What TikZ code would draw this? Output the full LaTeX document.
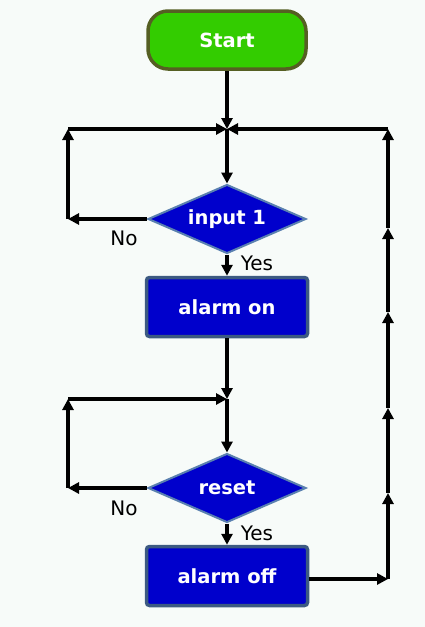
\documentclass[tikz,border=0pt]{standalone}
\usepackage{fontspec}
\setmainfont{DejaVu Sans}
\usetikzlibrary{shapes.geometric, arrows.meta}

\definecolor{bgcol}{RGB}{247,251,249}
\definecolor{startgreen}{RGB}{51,204,0}
\definecolor{startedge}{RGB}{85,95,35}
\definecolor{boxblue}{RGB}{0,0,204}
\definecolor{boxedge}{RGB}{60,90,130}
\definecolor{diaedge}{RGB}{90,128,176}

\begin{document}
\begin{tikzpicture}[x=1pt, y=-1pt,
  line width=3.5pt,
  arr/.style={-{Triangle[length=11pt,width=11pt]}},
  startbox/.style={rectangle, rounded corners=20pt, fill=startgreen, draw=startedge,
    minimum width=158pt, minimum height=58pt, text=white,
    font=\bfseries\fontsize{19.5}{22}\selectfont},
  actbox/.style={rectangle, rounded corners=3pt, fill=boxblue, draw=boxedge,
    minimum width=161pt, minimum height=59pt, text=white,
    font=\bfseries\fontsize{19.5}{22}\selectfont},
  testbox/.style={diamond, aspect=2.3, fill=boxblue, draw=diaedge, line width=2pt,
    minimum width=158pt, minimum height=69pt, inner sep=0pt, text=white,
    font=\bfseries\fontsize{19.5}{22}\selectfont},
  lbl/.style={font=\fontsize{20}{22}\selectfont}]

\useasboundingbox[fill=bgcol] (0,0) rectangle (425,627);

% the boxes
\node[startbox] (start) at (227,40) {Start};
\node[testbox] (in1) at (227,219) {input 1};
\node[actbox] (alarmon) at (227,307) {alarm on};
\node[testbox] (reset) at (227,488) {reset};
\node[actbox] (alarmoff) at (227,576) {alarm off};

% junctions and corners
\coordinate (j1) at (227,129);
\coordinate (j2) at (227,399);
\coordinate (la) at (68,219);
\coordinate (lb) at (68,129);
\coordinate (lc) at (68,488);
\coordinate (ld) at (68,399);
\coordinate (r0) at (388,579);
\coordinate (r1) at (388,493);
\coordinate (r2) at (388,408);
\coordinate (r3) at (388,312);
\coordinate (r4) at (388,228);
\coordinate (r5) at (388,129);

% main line
\draw[arr] (start) -- (j1);
\draw[arr] (j1) -- (in1.north);
\draw[arr] (in1.south) -- (alarmon.north);
\draw[arr] (alarmon) -- (j2);
\draw[arr] (j2) -- (reset.north);
\draw[arr] (reset.south) -- (alarmoff.north);

% first loop
\draw[arr] (in1.west) -- (la);
\draw[arr] (la) -- (lb);
\draw[arr] (lb) -- (j1);

% second loop
\draw[arr] (reset.west) -- (lc);
\draw[arr] (lc) -- (ld);
\draw[arr] (ld) -- (j2);

% back to the top
\draw[arr] (alarmoff.east |- r0) -- (r0);
\foreach \a/\b in {r0/r1, r1/r2, r2/r3, r3/r4, r4/r5}
\draw[arr] (\a) -- (\b);
\draw[arr] (r5) -- (j1);

\node[lbl] at (124,238) {No};
\node[lbl] at (257,263) {Yes};
\node[lbl] at (124,508) {No};
\node[lbl] at (257,533) {Yes};

\end{tikzpicture}
\end{document}
